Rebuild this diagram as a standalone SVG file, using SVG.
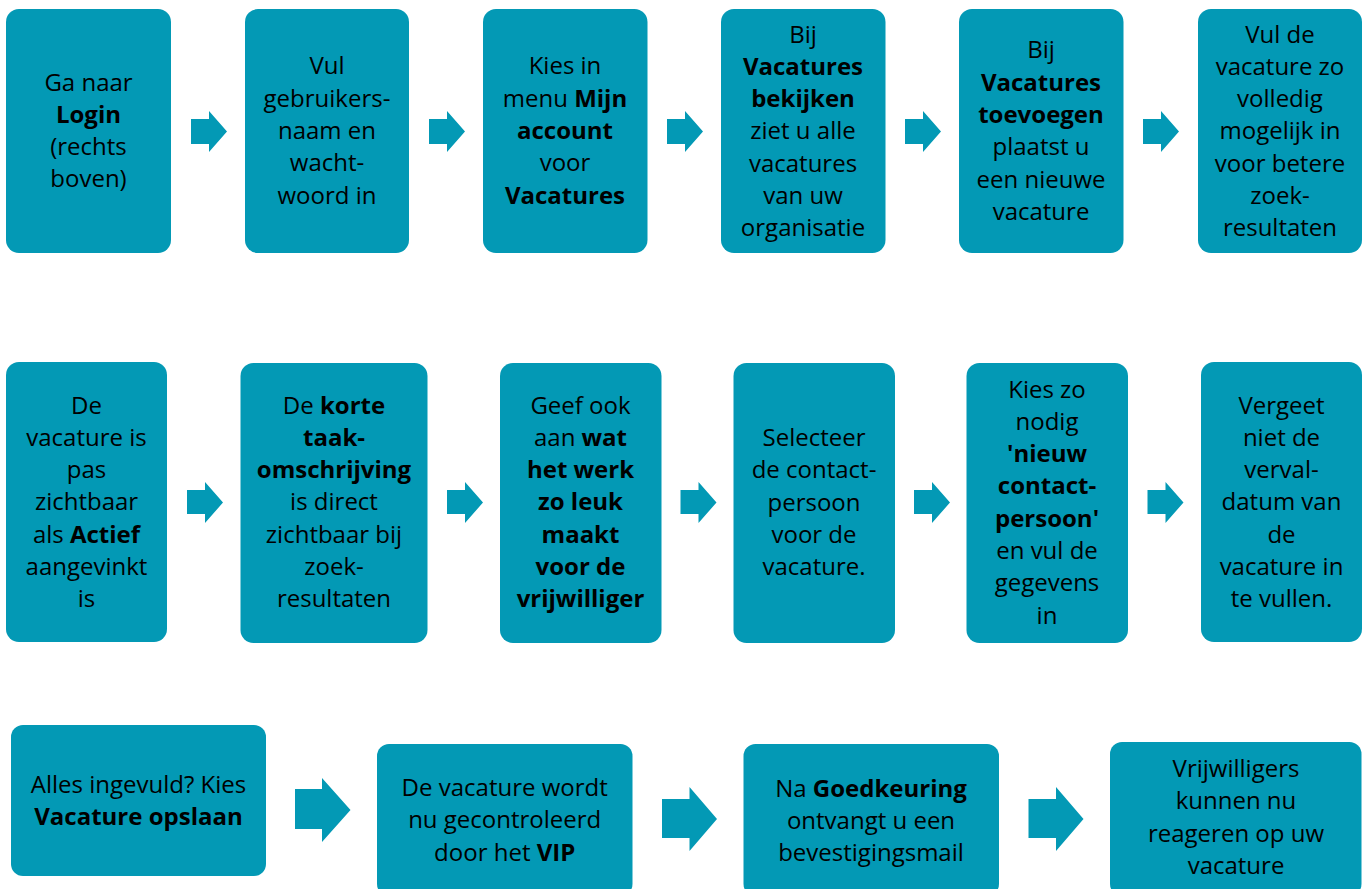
<svg xmlns="http://www.w3.org/2000/svg" width="1363" height="889" viewBox="0 0 1363 889">
<style>
.box{fill:#0399b5}
.arr{fill:#0399b5}
.t{font-family:"Open Sans","Liberation Sans",sans-serif;font-size:24px;fill:#000;text-anchor:middle}
.b{font-weight:bold}
</style>
<rect width="1363" height="889" fill="#fff"/>
<g id="connectors">
<polygon class="arr" points="191,119 209,119 209,111 227,131.5 209,152 209,144 191,144"/>
<polygon class="arr" points="429,119 447,119 447,111 465,131.5 447,152 447,144 429,144"/>
<polygon class="arr" points="667,119 685,119 685,111 703,131.5 685,152 685,144 667,144"/>
<polygon class="arr" points="905,119 923,119 923,111 941,131.5 923,152 923,144 905,144"/>
<polygon class="arr" points="1143,119 1161,119 1161,111 1179,131.5 1161,152 1161,144 1143,144"/>
<polygon class="arr" points="187,490 205,490 205,482 223,502.5 205,523 205,514 187,514"/>
<polygon class="arr" points="447,490 465,490 465,482 483,502.5 465,523 465,514 447,514"/>
<polygon class="arr" points="680.5,490 698.5,490 698.5,482 716.5,502.5 698.5,523 698.5,514 680.5,514"/>
<polygon class="arr" points="914,490 932,490 932,482 950,502.5 932,523 932,514 914,514"/>
<polygon class="arr" points="1147.5,490 1165.5,490 1165.5,482 1183.5,502.5 1165.5,523 1165.5,514 1147.5,514"/>
<polygon class="arr" points="295,789 322,789 322,778 350.5,810 322,842 322,829 295,829"/>
<polygon class="arr" points="662,799 689.5,799 689.5,787 717,819 689.5,851 689.5,838 662,838"/>
<polygon class="arr" points="1028.5,799 1056,799 1056,787 1083.5,819 1056,851 1056,838 1028.5,838"/>
</g>
<g id="n1"><rect class="box" x="6" y="9" width="165" height="244" rx="13"/>
<text class="t"><tspan x="88.5" y="90.5">Ga naar</tspan><tspan x="88.5" y="122.8" class="b">Login</tspan><tspan x="88.5" y="155.1">(rechts</tspan><tspan x="88.5" y="187.4">boven)</tspan></text></g>
<g id="n2"><rect class="box" x="245" y="9" width="164" height="244" rx="13"/>
<text class="t"><tspan x="327" y="74.4">Vul</tspan><tspan x="327" y="106.7">gebruikers-</tspan><tspan x="327" y="139">naam en</tspan><tspan x="327" y="171.3">wacht-</tspan><tspan x="327" y="203.6">woord in</tspan></text></g>
<g id="n3"><rect class="box" x="483" y="9" width="164.5" height="244" rx="13"/>
<text class="t"><tspan x="565" y="74.4">Kies in</tspan><tspan x="565" y="106.7">menu <tspan class="b">Mijn</tspan></tspan><tspan x="565" y="139" class="b">account</tspan><tspan x="565" y="171.3">voor</tspan><tspan x="565" y="203.6" class="b">Vacatures</tspan></text></g>
<g id="n4"><rect class="box" x="721" y="9" width="164.5" height="244" rx="13"/>
<text class="t"><tspan x="803" y="42.5">Bij</tspan><tspan x="803" y="74.8" class="b">Vacatures</tspan><tspan x="803" y="107.1" class="b">bekijken</tspan><tspan x="803" y="139.4">ziet u alle</tspan><tspan x="803" y="171.7">vacatures</tspan><tspan x="803" y="204">van uw</tspan><tspan x="803" y="236.3">organisatie</tspan></text></g>
<g id="n5"><rect class="box" x="959" y="9" width="164.5" height="244" rx="13"/>
<text class="t"><tspan x="1041" y="58.3">Bij</tspan><tspan x="1041" y="90.6" class="b">Vacatures</tspan><tspan x="1041" y="122.9" class="b">toevoegen</tspan><tspan x="1041" y="155.2">plaatst u</tspan><tspan x="1041" y="187.5">een nieuwe</tspan><tspan x="1041" y="219.8">vacature</tspan></text></g>
<g id="n6"><rect class="box" x="1198" y="9" width="164" height="244" rx="13"/>
<text class="t"><tspan x="1280" y="42.5">Vul de</tspan><tspan x="1280" y="74.8">vacature zo</tspan><tspan x="1280" y="107.1">volledig</tspan><tspan x="1280" y="139.4">mogelijk in</tspan><tspan x="1280" y="171.7">voor betere</tspan><tspan x="1280" y="204">zoek-</tspan><tspan x="1280" y="236.3">resultaten</tspan></text></g>
<g id="n7"><rect class="box" x="6" y="362" width="161" height="280" rx="13"/>
<text class="t"><tspan x="86.5" y="413.5">De</tspan><tspan x="86.5" y="445.8">vacature is</tspan><tspan x="86.5" y="478.1">pas</tspan><tspan x="86.5" y="510.4">zichtbaar</tspan><tspan x="86.5" y="542.7">als <tspan class="b">Actief</tspan></tspan><tspan x="86.5" y="575">aangevinkt</tspan><tspan x="86.5" y="607.3">is</tspan></text></g>
<g id="n8"><rect class="box" x="240.5" y="363" width="187" height="280" rx="13"/>
<text class="t"><tspan x="334" y="413.5">De <tspan class="b">korte</tspan></tspan><tspan x="334" y="445.8" class="b">taak-</tspan><tspan x="334" y="478.1" class="b">omschrijving</tspan><tspan x="334" y="510.4">is direct</tspan><tspan x="334" y="542.7">zichtbaar bij</tspan><tspan x="334" y="575">zoek-</tspan><tspan x="334" y="607.3">resultaten</tspan></text></g>
<g id="n9"><rect class="box" x="500" y="363" width="161.5" height="280" rx="13"/>
<text class="t"><tspan x="580.5" y="413.5">Geef ook</tspan><tspan x="580.5" y="445.8">aan <tspan class="b">wat</tspan></tspan><tspan x="580.5" y="478.1" class="b">het werk</tspan><tspan x="580.5" y="510.4" class="b">zo leuk</tspan><tspan x="580.5" y="542.7" class="b">maakt</tspan><tspan x="580.5" y="575" class="b">voor de</tspan><tspan x="580.5" y="607.3" class="b">vrijwilliger</tspan></text></g>
<g id="n10"><rect class="box" x="733.5" y="363" width="161.5" height="280" rx="13"/>
<text class="t"><tspan x="814" y="446">Selecteer</tspan><tspan x="814" y="478.3">de contact-</tspan><tspan x="814" y="510.6">persoon</tspan><tspan x="814" y="542.9">voor de</tspan><tspan x="814" y="575.2">vacature.</tspan></text></g>
<g id="n11"><rect class="box" x="966.5" y="363" width="161.5" height="280" rx="13"/>
<text class="t"><tspan x="1047" y="397.5">Kies zo</tspan><tspan x="1047" y="429.8">nodig</tspan><tspan x="1047" y="462.1" class="b">'nieuw</tspan><tspan x="1047" y="494.4" class="b">contact-</tspan><tspan x="1047" y="526.7" class="b">persoon'</tspan><tspan x="1047" y="559">en vul de</tspan><tspan x="1047" y="591.3">gegevens</tspan><tspan x="1047" y="623.6">in</tspan></text></g>
<g id="n12"><rect class="box" x="1201" y="362" width="161" height="280" rx="13"/>
<text class="t"><tspan x="1281.5" y="413.5">Vergeet</tspan><tspan x="1281.5" y="445.8">niet de</tspan><tspan x="1281.5" y="478.1">verval-</tspan><tspan x="1281.5" y="510.4">datum van</tspan><tspan x="1281.5" y="542.7">de</tspan><tspan x="1281.5" y="575">vacature in</tspan><tspan x="1281.5" y="607.3">te vullen.</tspan></text></g>
<g id="n13"><rect class="box" x="11" y="725" width="255" height="151" rx="12"/>
<text class="t"><tspan x="138.5" y="792.5">Alles ingevuld? Kies</tspan><tspan x="138.5" y="824.8" class="b">Vacature opslaan</tspan></text></g>
<g id="n14"><rect class="box" x="377" y="744" width="255.5" height="152" rx="12"/>
<text class="t"><tspan x="504.7" y="796">De vacature wordt</tspan><tspan x="504.7" y="828.3">nu gecontroleerd</tspan><tspan x="504.7" y="860.6">door het <tspan class="b">VIP</tspan></tspan></text></g>
<g id="n15"><rect class="box" x="743.5" y="744" width="255.5" height="152" rx="12"/>
<text class="t"><tspan x="871" y="796.5">Na <tspan class="b">Goedkeuring</tspan></tspan><tspan x="871" y="828.8">ontvangt u een</tspan><tspan x="871" y="861.1">bevestigingsmail</tspan></text></g>
<g id="n16"><rect class="box" x="1110" y="742" width="251.5" height="154" rx="12"/>
<text class="t"><tspan x="1236" y="777">Vrijwilligers</tspan><tspan x="1236" y="809.3">kunnen nu</tspan><tspan x="1236" y="841.6">reageren op uw</tspan><tspan x="1236" y="873.9">vacature</tspan></text></g>
</svg>
